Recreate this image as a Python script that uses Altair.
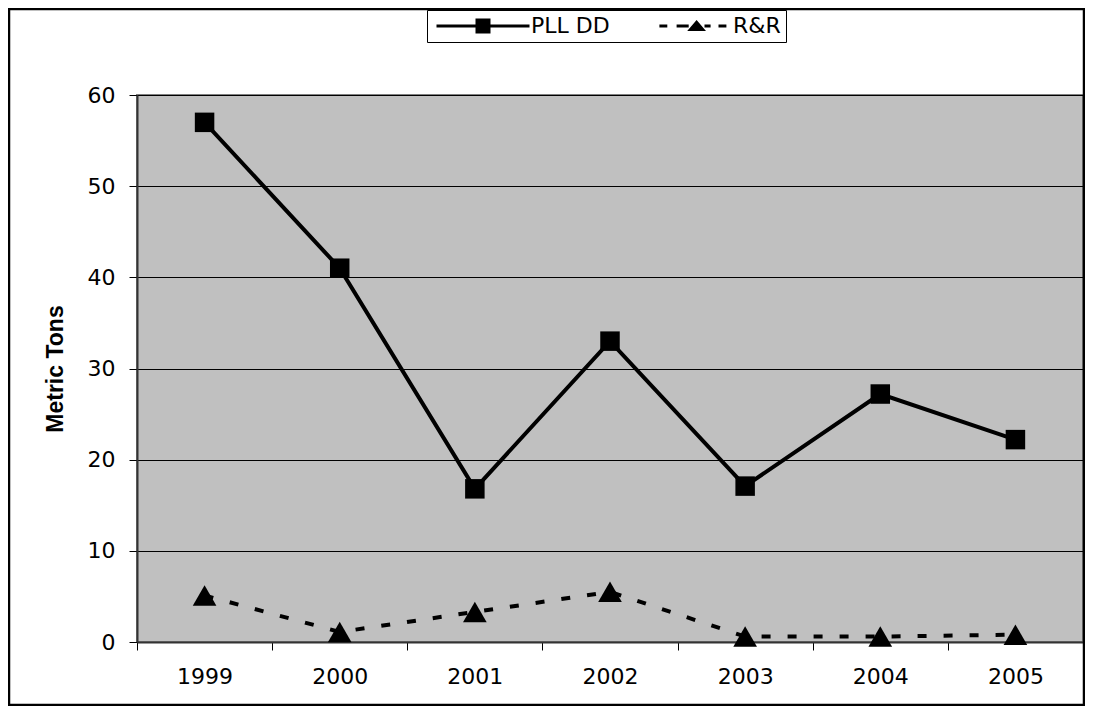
import altair as alt
import pandas as pd

years = ["1999", "2000", "2001", "2002", "2003", "2004", "2005"]
pll_dd = [57.0, 41.0, 16.8, 33.0, 17.1, 27.2, 22.2]
r_and_r = [5.1, 1.1, 3.3, 5.5, 0.6, 0.6, 0.8]
series_names = ["PLL DD", "R&R"]
y_ticks = [0, 10, 20, 30, 40, 50, 60]

rows = []
for name, vals in zip(series_names, [pll_dd, r_and_r]):
    for yr, v in zip(years, vals):
        rows.append({"Year": yr, "Series": name, "Tons": v})
df = pd.DataFrame(rows)

W, H = 946, 547
FONT = "DejaVu Sans"

x_enc = alt.X(
    "Year:N", sort=years,
    scale=alt.Scale(type="band", paddingInner=0, paddingOuter=0),
    axis=alt.Axis(title=None, tickBand="extent", labelAngle=0, grid=False,
                  labelPadding=16),
)
y_enc = alt.Y(
    "Tons:Q",
    scale=alt.Scale(domain=[0, 60], nice=False),
    axis=alt.Axis(values=y_ticks, title="Metric Tons", titleFont="Liberation Sans",
                  titleFontSize=23, titleFontWeight="bold", titleColor="black",
                  titlePadding=20, labelPadding=14, grid=True),
)

base = alt.Chart(df).encode(x=x_enc, y=y_enc)
pll = base.transform_filter(alt.datum.Series == "PLL DD")
rr = base.transform_filter(alt.datum.Series == "R&R")

line_pll = pll.mark_line(color="black", strokeWidth=4)
line_rr = rr.mark_line(color="black", strokeWidth=4, strokeDash=[9, 17])

pts_pll = pll.mark_point(filled=True, color="black", opacity=1, shape="square", size=380)
pts_rr = rr.mark_point(filled=True, color="black", opacity=1, shape="triangle-up", size=560)

# legend symbols: line + marker as filled custom SVG paths (unit = 10 px)
path_pll = ("M-4.65,-0.15H4.65V0.15H-4.65Z"
            "M-0.75,-0.75H0.75V0.75H-0.75Z")
path_rr = ("M-2.56,-0.15H-1.77V0.15H-2.56Z"
           "M-0.84,-0.15H0.37V0.15H-0.84Z"
           "M1.95,-0.15H2.56V0.15H1.95Z"
           "M3.35,-0.15H4.14V0.15H3.35Z"
           "M1.16,-0.6L0.22,0.5L2.1,0.5Z")

legend_layer = base.mark_point(
    filled=True, color="black", opacity=0
).encode(
    shape=alt.Shape("Series:N",
                    scale=alt.Scale(domain=series_names, range=[path_pll, path_rr]),
                    legend=alt.Legend(title=None, orient="none", direction="horizontal",
                                      legendX=290, legendY=-85,
                                      strokeColor="black", fillColor="white",
                                      padding=5,
                                      labelFont=FONT, labelFontSize=22, labelColor="black",
                                      symbolSize=400, symbolStrokeWidth=0,
                                      symbolOpacity=1,
                                      symbolFillColor="black", symbolStrokeColor="black",
                                      symbolOffset=40,
                                      labelOffset=37, columnPadding=24))
)

border = alt.Chart(pd.DataFrame({"a": [0]})).mark_rect(
    fill="transparent", stroke="black", strokeWidth=2.5
).encode(x=alt.value(-128), x2=alt.value(947), y=alt.value(-86), y2=alt.value(610))

chart = alt.layer(border, line_pll, line_rr, pts_pll, pts_rr, legend_layer).properties(
    width=W, height=H,
    padding={"left": 129, "top": 87, "right": 2, "bottom": 64},
    autosize=alt.AutoSizeParams(type="none"),
).configure_view(
    fill="#C0C0C0", stroke="#808080", strokeWidth=2
).configure_axis(
    labelFont=FONT, labelFontSize=22, labelColor="black",
    tickColor="black", tickSize=8, tickWidth=1,
    domainColor="#333333", domainWidth=2,
).configure_axisY(
    gridColor="black", gridWidth=1, gridOpacity=1
)

chart.save("out.html", embed_options={"renderer": "svg", "actions": False})
